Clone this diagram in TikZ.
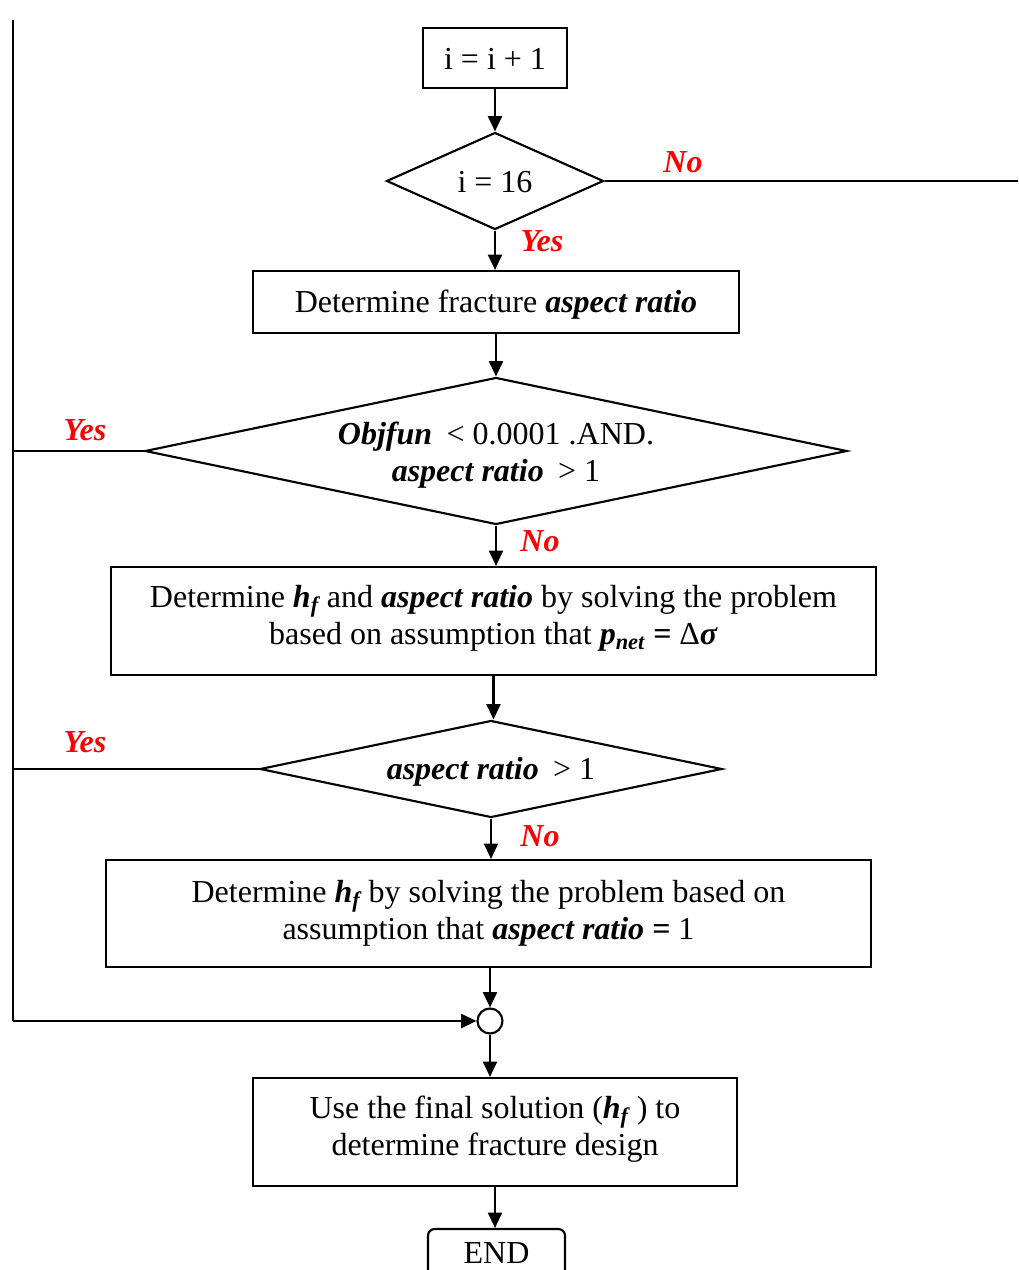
\documentclass[tikz,border=0pt]{standalone}
\usepackage{amsmath}
\usepackage{fontspec}
\setmainfont{Liberation Serif}
\usepackage{tikz}
\usetikzlibrary{positioning,shapes,arrows.meta}
\tikzset{proc node/.style={rectangle,draw,line width=1.6pt,inner sep=0pt,align=center,
font=\fontsize{24}{27.75}\selectfont}}
\tikzset{dec node/.style={diamond,draw,line width=1.6pt,inner sep=0pt,align=center,
font=\fontsize{24}{27.75}\selectfont}}
\tikzset{lab node/.style={text=red,inner sep=0pt,font=\fontsize{24}{27}\selectfont\bfseries\itshape}}
\tikzset{join node/.style={circle,draw,line width=1.6pt,inner sep=0pt,minimum size=18.75pt}}
\tikzset{flow/.style={line width=1.6pt,-{Triangle[length=11.5pt,width=10.5pt]}}}
\newcommand{\bitext}[1]{\textbf{\textit{#1}}}
\newcommand{\down}[2]{\raisebox{-#1}[\height][\depth]{#2}}

\begin{document}
\begin{tikzpicture}[x=0.75pt,y=-0.75pt]
\clip (0,0) rectangle (1018,1270);

% boxes and tests
\node[proc node,minimum width=108pt,minimum height=45pt] (inc) at (495,58) {\down{0.75pt}{i = i + 1}};
\node[dec node,minimum width=162.75pt,minimum height=72.75pt,aspect=2.24] (last) at (495,181)
    {\down{0.75pt}{i = 16}};
\node[proc node,minimum width=364.5pt,minimum height=46.5pt] (ratio) at (496,302)
    {\down{2.25pt}{Determine fracture \bitext{aspect ratio}}};
\node[dec node,minimum width=526.5pt,minimum height=110.25pt,aspect=4.78] (conv) at (496,451)
    {\down{3.75pt}{\begin{tabular}{@{}c@{}}\bitext{Objfun}\hspace{0.45em}< 0.0001 .AND.\\
     \bitext{aspect ratio}\hspace{0.45em}> 1\end{tabular}}};
\node[proc node,minimum width=573.75pt,minimum height=81pt] (solvea) at (493.5,621)
    {\down{-2pt}{\begin{tabular}{@{}c@{}}Determine \bitext{h\textsubscript{f}} and \bitext{aspect ratio} by solving the problem\\
     based on assumption that \bitext{p\textsubscript{net} =} Δ\bitext{σ}\end{tabular}}};
\node[dec node,minimum width=346.5pt,minimum height=72.75pt,aspect=4.76] (check) at (491,769)
    {\down{2.25pt}{\bitext{aspect ratio}\hspace{0.45em}> 1}};
\node[proc node,minimum width=573.75pt,minimum height=80.25pt] (solveb) at (488.5,913.5)
    {Determine \bitext{h\textsubscript{f}} by solving the problem based on\\
     assumption that \bitext{aspect ratio =} 1};
\node[join node] (jn) at (490,1021) {};
\node[proc node,minimum width=363pt,minimum height=81pt] (final) at (495,1132)
    {\down{-2pt}{\begin{tabular}{@{}c@{}}Use the final solution (\bitext{h\textsubscript{f}} ) to\\
     determine fracture design\end{tabular}}};
\node[proc node,rounded corners=5pt,minimum width=102.75pt,minimum height=39pt] (stop) at (496.5,1255)
    {\down{-1.5pt}{END}};

% free ends
\coordinate (ltop) at (13,20);
\coordinate (lbot) at (13,1021);
\coordinate (rend) at (1020,181);

% labels
\node[lab node] (no1) at (683,162) {No};
\node[lab node] (yes1) at (542,241) {Yes};
\node[lab node] (yes2) at (85,430) {Yes};
\node[lab node] (no2) at (540,541) {No};
\node[lab node] (yes3) at (85,742) {Yes};
\node[lab node] (no3) at (540,836) {No};

% connectors
\draw[flow] (inc.south) -- (inc.south |- last.north);
\draw[flow] (last.south) -- (last.south |- ratio.north);
\draw[flow] (ratio.south) -- (ratio.south |- conv.north);
\draw[flow] (conv.south) -- (conv.south |- solvea.north);
\draw[flow] (solvea.south) -- (solvea.south |- check.north);
\draw[flow] (check.south) -- (check.south |- solveb.north);
\draw[flow] (jn.north |- solveb.south) -- (jn.north);
\draw[flow] (jn.south) -- (jn.south |- final.north);
\draw[flow] (final.south) -- (final.south |- stop.north);

\draw[line width=1.6pt] (last.east) -- (rend);
\draw[line width=1.6pt] (ltop) -- (lbot);
\draw[line width=1.6pt] (conv.west) -- (conv.west -| ltop);
\draw[line width=1.6pt] (check.west) -- (check.west -| ltop);
\draw[flow] (lbot) -- (jn.west);
\end{tikzpicture}
\end{document}
